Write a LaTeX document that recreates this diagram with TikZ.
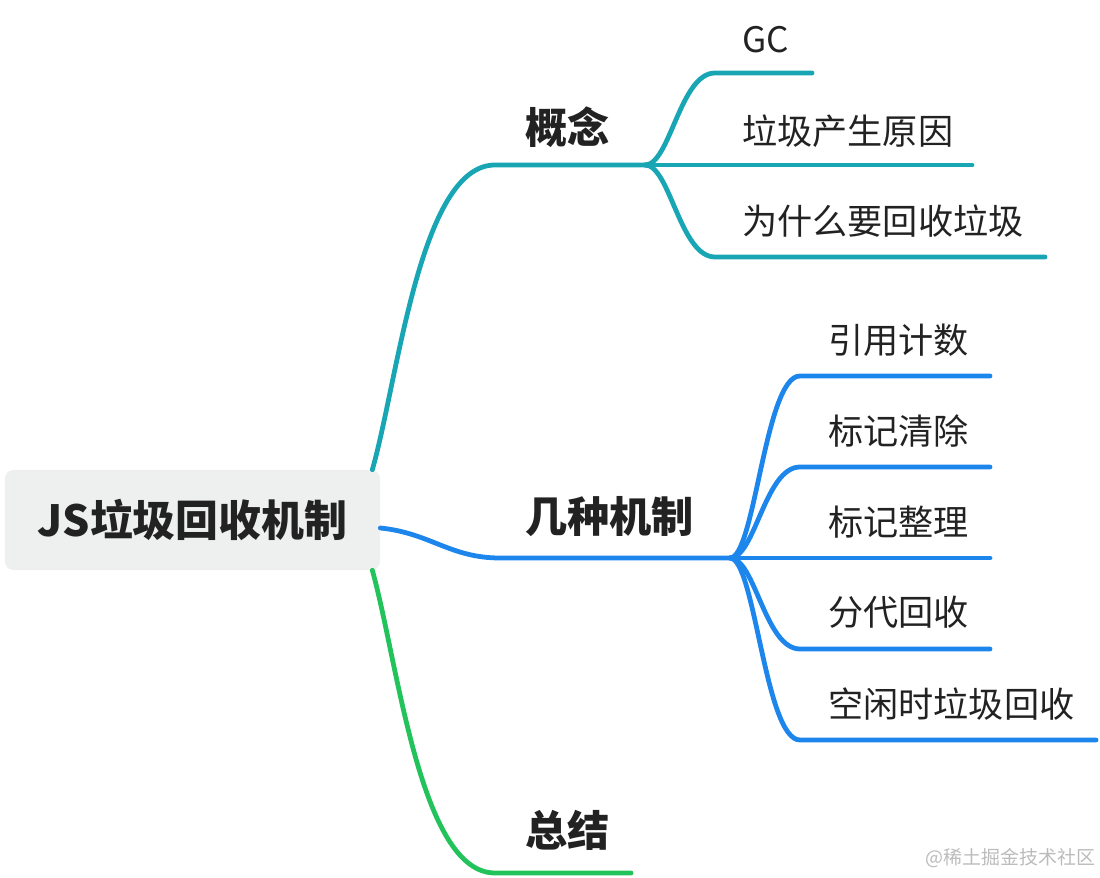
\documentclass[tikz,border=0pt]{standalone}
\usepackage{fontspec}
\setmainfont{Noto Sans CJK SC}
\usepackage{xcolor}
\usepackage{tikz}
\usetikzlibrary{positioning}

\definecolor{rootfill}{HTML}{EEF0F0}
\definecolor{txt}{HTML}{222222}
\definecolor{cteal}{HTML}{19A6B4}
\definecolor{cblue}{HTML}{1C86EC}
\definecolor{cgreen}{HTML}{22C35B}
\definecolor{mark}{HTML}{BBBBBB}

\begin{document}
\begin{tikzpicture}[x=0.025cm, y=-0.025cm,
  rootbox/.style={fill=rootfill, rounded corners=6pt,
    minimum width=9.375cm, minimum height=2.5cm, text=txt,
    font=\bfseries\fontsize{30.5}{36}\selectfont},
  topic/.style={anchor=west, inner sep=0pt, text=txt,
    font=\bfseries\fontsize{30}{36}\selectfont},
  leaf/.style={anchor=west, inner sep=0pt, text=txt,
    font=\fontsize{25}{30}\selectfont},
  branch/.style={line width=3.4pt, line cap=round},
]
\useasboundingbox (0,0) rectangle (1100,878);

\node[rootbox] (root) at (192.5,520) {JS垃圾回收机制};

% main topics
\node[topic] (concept) at (525,127) {概念};
\node[topic] (mech)    at (525,517) {几种机制};
\node[topic] (summary) at (525,830) {总结};

% leaves of 概念
\node[leaf] (gc)    at (742,40)  {GC};
\node[leaf] (cause) at (742,131) {垃圾产生原因};
\node[leaf] (why)   at (742,221) {为什么要回收垃圾};

% leaves of 几种机制
\node[leaf] (refcnt)  at (828,340) {引用计数};
\node[leaf] (marksw)  at (828,431) {标记清除};
\node[leaf] (markcp)  at (828,522) {标记整理};
\node[leaf] (gener)   at (828,612) {分代回收};
\node[leaf] (idle)    at (828,704) {空闲时垃圾回收};

\node[anchor=east, text=mark, inner sep=0pt,
  font=\fontsize{13.5}{16}\selectfont] (wmark) at (1096,858) {@稀土掘金技术社区};

% hubs and line ends
\coordinate (c-hub) at (645,165);
\coordinate (m-hub) at (730,558);
\coordinate (s-end) at (631,873);

% root -> topics
\draw[branch, cteal] ([xshift=-0.2cm]root.north east)
  .. controls (398,380) and (420,165) .. (495,165) -- (c-hub);
\draw[branch, cblue] ([yshift=-0.2cm]root.east)
  .. controls (430,533) and (450,558) .. (500,558) -- (m-hub);
\draw[branch, cgreen] ([xshift=-0.2cm]root.south east)
  .. controls (398,662) and (420,873) .. (495,873) -- (s-end);

% 概念 -> leaves
\draw[branch, cteal] (c-hub) .. controls (670,165) and (680,73) .. (715,73) -- (812,73);
\draw[branch, cteal] (c-hub) -- (972,165);
\draw[branch, cteal] (c-hub) .. controls (670,165) and (680,257) .. (715,257) -- (1045,257);

% 几种机制 -> leaves
\draw[branch, cblue] (m-hub) .. controls (755,558) and (765,376) .. (800,376) -- (990,376);
\draw[branch, cblue] (m-hub) .. controls (755,558) and (765,467) .. (800,467) -- (990,467);
\draw[branch, cblue] (m-hub) -- (990,558);
\draw[branch, cblue] (m-hub) .. controls (755,558) and (765,649) .. (800,649) -- (990,649);
\draw[branch, cblue] (m-hub) .. controls (755,558) and (765,740) .. (800,740) -- (1096,740);
\end{tikzpicture}
\end{document}
